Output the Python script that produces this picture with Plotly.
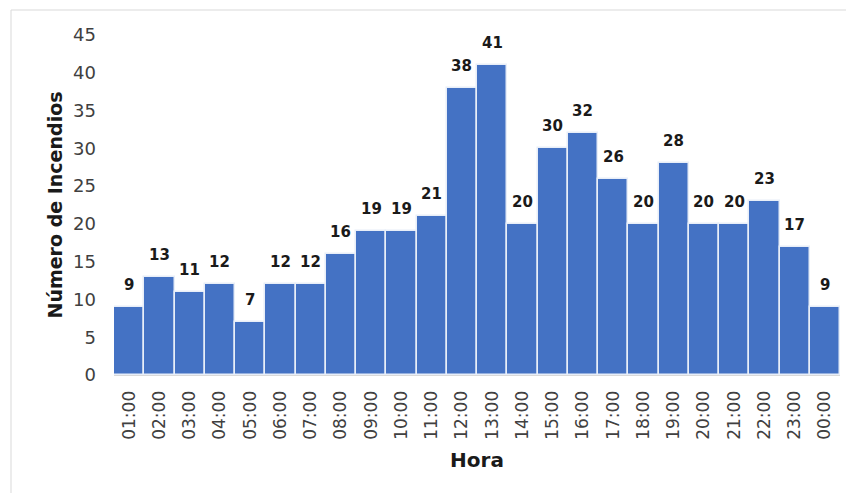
import plotly.graph_objects as go

horas = ["01:00", "02:00", "03:00", "04:00", "05:00", "06:00", "07:00", "08:00",
         "09:00", "10:00", "11:00", "12:00", "13:00", "14:00", "15:00", "16:00",
         "17:00", "18:00", "19:00", "20:00", "21:00", "22:00", "23:00", "00:00"]
incendios = [9, 13, 11, 12, 7, 12, 12, 16, 19, 19, 21, 38, 41, 20, 30, 32,
             26, 20, 28, 20, 20, 23, 17, 9]
y_ticks = [0, 5, 10, 15, 20, 25, 30, 35, 40, 45]

# page body has an 8px offset; compensate
OFF = 8
W, H = 854 - OFF, 493 - OFF
L, R, T, B = 114 - OFF, 14, 35 - OFF, 118

fig = go.Figure()
fig.add_trace(go.Bar(
    x=horas, y=incendios,
    marker=dict(color="#4472C4", line=dict(color="#e8eef8", width=1.5)),
    hoverinfo="x+y",
))

for h, v in zip(horas, incendios):
    fig.add_annotation(x=h, y=v, text=f"<b>{v}</b>", showarrow=False,
                       yanchor="bottom", yshift=11,
                       font=dict(family="DejaVu Sans", size=15, color="#1a1a1a"))

pw = 854 - 114 - 14
ph = 493 - 35 - 118
fig.update_layout(
    width=W, height=H,
    margin=dict(l=L, r=R, t=T, b=B),
    paper_bgcolor="white", plot_bgcolor="white",
    bargap=0,
    showlegend=False,
    font=dict(family="DejaVu Sans", color="#404040"),
    xaxis=dict(
        type="category",
        tickangle=-90,
        tickfont=dict(size=17, color="#404040"),
        showline=True, linecolor="#d9d9d9", linewidth=1,
        showgrid=False, ticks="",
        ticklabelstandoff=8,
        title=dict(text="<b>Hora</b>", font=dict(size=20, color="#1a1a1a"), standoff=14),
    ),
    yaxis=dict(
        range=[0, 45],
        tickvals=y_ticks,
        tickfont=dict(size=18, color="#404040"),
        showline=False, showgrid=False, zeroline=False, ticks="",
        ticklabelstandoff=17,
        title=dict(text="<b>Número de Incendios</b>", font=dict(size=19, color="#1a1a1a"), standoff=5),
    ),
    shapes=[dict(type="rect", xref="paper", yref="paper",
                 x0=(11 - 114) / pw, x1=2, y0=-2, y1=(375 - 10) / ph,
                 line=dict(color="#d9d9d9", width=1), fillcolor="rgba(0,0,0,0)", layer="below")],
)

fig.write_html("out.html")
